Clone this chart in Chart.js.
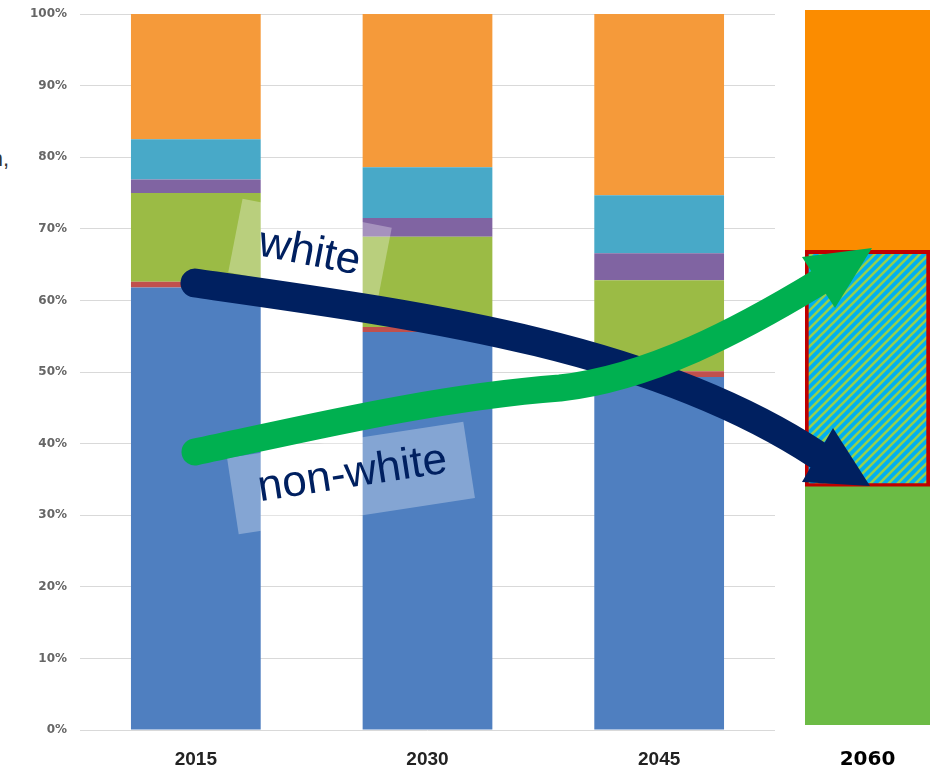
<!DOCTYPE html>
<html>
<head>
<meta charset="utf-8">
<script src="https://cdn.jsdelivr.net/npm/chart.js@4.4.1/dist/chart.umd.min.js"></script>
<style>
  html, body { margin: 0; padding: 0; background: #fff; }
  #wrap { position: relative; width: 930px; height: 772px; overflow: hidden; }
  #mainChart { position: absolute; left: 0; top: 0; z-index: 2; }
  #futureChart { position: absolute; left: 805px; top: 0; z-index: 1; }
  #cutText { position: absolute; left: -51px; top: 146px; width: 60px; text-align: right;
    font: 22px "Liberation Sans", Arial, sans-serif; color: #333; }
</style>
</head>
<body>
<div id="wrap">
  <div id="cutText">n,</div>
  <canvas id="futureChart" width="125" height="772"></canvas>
  <canvas id="mainChart" width="930" height="772"></canvas>
</div>
<script>
// categories and values (percent share, bottom segment first)
const years = ["2015", "2030", "2045"];
const seriesNames = ["Series 1", "Series 2", "Series 3", "Series 4", "Series 5", "Series 6"];
const seriesColors = ["#4f7fc0", "#c0504d", "#9bbb45", "#8064a2", "#48a9c8", "#f59a3a"];
const s1 = [61.8, 55.6, 49.3];
const s2 = [0.8, 0.7, 0.8];
const s3 = [12.4, 12.6, 12.7];
const s4 = [1.9, 2.6, 3.8];
const s5 = [5.6, 7.1, 8.1];
const s6 = [17.5, 21.4, 25.3];
const yTicks = [0, 10, 20, 30, 40, 50, 60, 70, 80, 90, 100];

const futureYear = ["2060"];
const futureNonWhiteBase = [33.3];
const futureCrossover = [33.1];
const futureTop = [33.6];

function makeHatch() {
  const c = document.createElement("canvas");
  c.width = 9;
  c.height = 9;
  const g = c.getContext("2d");
  g.fillStyle = "#00b0f0";
  g.fillRect(0, 0, 9, 9);
  g.strokeStyle = "#92d050";
  g.lineWidth = 2.6;
  g.beginPath();
  g.moveTo(-1, 10); g.lineTo(10, -1);
  g.moveTo(-2, 2); g.lineTo(2, -2);
  g.moveTo(7, 11); g.lineTo(11, 7);
  g.stroke();
  return g.createPattern(c, "repeat");
}

// overlay: labels and the two arrows
const overlayPlugin = {
  id: "overlay",
  afterDraw(chart) {
    const ctx = chart.ctx;

    labelBox(ctx, "white", 310, 250, 152, 75, 11, 0, 3);
    labelBox(ctx, "non-white", 351, 478, 239, 77, -8.7, 2, -3);

    // white -> shrinking share
    drawArrow(ctx, "#002060", 29, (p) => {
      p.moveTo(195, 283);
      p.bezierCurveTo(420, 315, 650, 345, 817.5, 455);
    }, [[802, 482], [833, 428], [870, 486]]);

    // non-white -> growing share
    drawArrow(ctx, "#00b050", 27, (p) => {
      p.moveTo(195, 452);
      p.bezierCurveTo(300, 430, 430, 398, 560, 388);
      p.bezierCurveTo(650, 378, 740, 330, 818.5, 282.5);
    }, [[802, 257], [835, 308], [872, 248]]);
  },
};

function labelBox(ctx, text, cx, cy, w, h, angle, dx, dy) {
  ctx.save();
  ctx.translate(cx, cy);
  ctx.rotate((angle * Math.PI) / 180);
  ctx.fillStyle = "rgba(255,255,255,0.3)";
  ctx.fillRect(-w / 2, -h / 2, w, h);
  ctx.fillStyle = "#002060";
  ctx.font = '44px "Liberation Sans", Arial, sans-serif';
  ctx.textAlign = "center";
  ctx.textBaseline = "middle";
  ctx.fillText(text, dx, dy);
  ctx.restore();
}

function drawArrow(ctx, color, width, path, head) {
  ctx.save();
  ctx.strokeStyle = color;
  ctx.fillStyle = color;
  ctx.lineWidth = width;
  ctx.lineCap = "round";
  ctx.beginPath();
  path(ctx);
  ctx.stroke();
  ctx.beginPath();
  ctx.moveTo(head[0][0], head[0][1]);
  ctx.lineTo(head[1][0], head[1][1]);
  ctx.lineTo(head[2][0], head[2][1]);
  ctx.closePath();
  ctx.fill();
  ctx.restore();
}

const seriesData = [s1, s2, s3, s4, s5, s6];

new Chart(document.getElementById("mainChart"), {
  type: "bar",
  data: {
    labels: years,
    datasets: seriesData.map((d, i) => ({
      label: seriesNames[i],
      data: d,
      backgroundColor: seriesColors[i],
      borderWidth: 0,
      barPercentage: 0.56,
      categoryPercentage: 1,
    })),
  },
  options: {
    responsive: false,
    animation: false,
    layout: { padding: { left: 0, right: 155, top: 14, bottom: 1 } },
    plugins: { legend: { display: false }, tooltip: { enabled: false } },
    scales: {
      x: {
        stacked: true,
        afterFit: (s) => { s.height = 41; },
        grid: { display: false, drawTicks: false },
        border: { display: false },
        ticks: {
          padding: 18,
          color: "#222",
          font: { family: '"Liberation Sans", Arial, sans-serif', size: 19, weight: "bold" },
        },
      },
      y: {
        stacked: true,
        min: 0,
        max: 100,
        afterBuildTicks: (s) => { s.ticks = yTicks.map((v) => ({ value: v })); },
        afterFit: (s) => {
          s.width = 80;
          s.paddingTop = 0;
          s.paddingBottom = 0;
        },
        grid: { color: "#d9d9d9", drawTicks: false },
        border: { display: false },
        ticks: {
          padding: 13,
          color: "#666",
          font: { family: '"DejaVu Sans", sans-serif', size: 12, weight: "bold" },
          callback: (v) => v + "%",
        },
      },
    },
  },
  plugins: [overlayPlugin],
});

new Chart(document.getElementById("futureChart"), {
  type: "bar",
  data: {
    labels: futureYear,
    datasets: [
      { label: "non-white", data: futureNonWhiteBase, backgroundColor: "#6cbb45", borderWidth: 0 },
      {
        label: "crossover",
        data: futureCrossover,
        backgroundColor: makeHatch(),
        borderColor: "#c00000",
        borderWidth: 4,
        borderSkipped: false,
      },
      { label: "white", data: futureTop, backgroundColor: "#fb8c00", borderWidth: 0 },
    ].map((d) => ({ ...d, barPercentage: 1, categoryPercentage: 1 })),
  },
  options: {
    responsive: false,
    animation: false,
    layout: { padding: { left: 0, right: 0, top: 10, bottom: 0 } },
    plugins: { legend: { display: false }, tooltip: { enabled: false } },
    scales: {
      x: {
        stacked: true,
        afterFit: (s) => { s.height = 47; },
        grid: { display: false, drawTicks: false },
        border: { display: false },
        ticks: {
          padding: 23,
          color: "#000",
          font: { family: '"DejaVu Sans", sans-serif', size: 20, weight: "bold" },
        },
      },
      y: { stacked: true, display: false, min: 0, max: 100 },
    },
  },
});
</script>
</body>
</html>
